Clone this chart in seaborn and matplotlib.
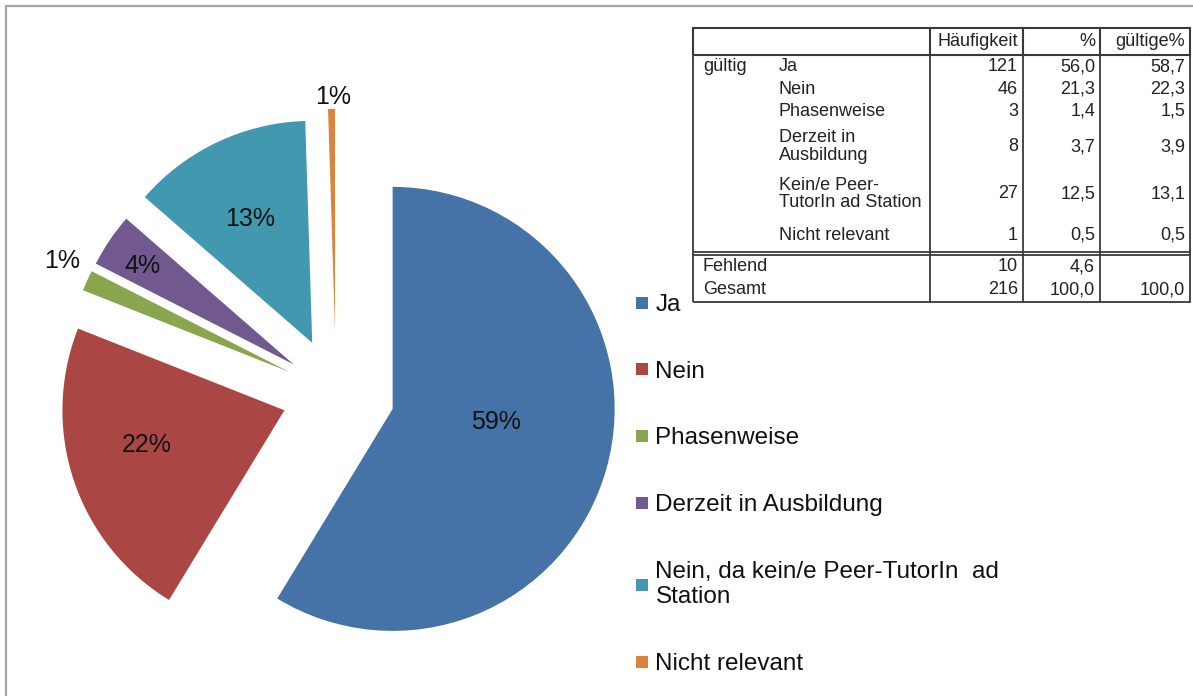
import matplotlib
matplotlib.use("Agg")
import matplotlib.pyplot as plt
from matplotlib.lines import Line2D
import numpy as np
import seaborn as sns

# answers (pie + legend)
categories = ["Ja", "Nein", "Phasenweise", "Derzeit in Ausbildung",
              "Nein, da kein/e Peer-TutorIn  ad\nStation", "Nicht relevant"]
valid_pct = [58.7, 22.3, 1.5, 3.9, 13.1, 0.5]
pie_labels = ["59%", "22%", "1%", "4%", "13%", "1%"]

# frequency table
table_labels = ["Ja", "Nein", "Phasenweise", "Derzeit in\nAusbildung",
                "Kein/e Peer-\nTutorIn ad Station", "Nicht relevant"]
counts = [121, 46, 3, 8, 27, 1]
pct = [56.0, 21.3, 1.4, 3.7, 12.5, 0.5]
missing_count, missing_pct = 10, 4.6
total_count, total_pct, total_valid = 216, 100.0, 100.0

colors = ["#4572A7", "#AA4643", "#89A54E", "#71588F", "#4198AF", "#DB843D"]
explode = [0.265, 0.245, 0.23, 0.23, 0.25, 0.28]
# label placement: distance (in radii) and angular nudge from the bisector
label_dist = [0.47, 0.64, 1.14, 0.81, 0.625, 1.055]
label_rot = [8.3, -4.6, -1.7, 1.0, 1.0, -0.4]

sns.set_theme(style="white")
plt.rcParams["font.family"] = ["Liberation Sans", "DejaVu Sans"]

W, H = 1193, 696
fig = plt.figure(figsize=(W / 100, H / 100), dpi=100)

# pie axes: centre at (336, 393) px, radius 222 px
cx, cy, r = 336, 393, 222
x0, x1, y0, y1 = 10, 660, 40, 690
ax = fig.add_axes([x0 / W, 1 - y1 / H, (x1 - x0) / W, (y1 - y0) / H])
wedges, _ = ax.pie(valid_pct, colors=colors, explode=explode, startangle=90,
                   counterclock=False, wedgeprops=dict(linewidth=0))
ax.set_xlim((x0 - cx) / r, (x1 - cx) / r)
ax.set_ylim((cy - y1) / r, (cy - y0) / r)
ax.axis("off")

for w, lab, d, rot in zip(wedges, pie_labels, label_dist, label_rot):
    ang = np.deg2rad((w.theta1 + w.theta2) / 2 + rot)
    ax.text(w.center[0] + d * np.cos(ang), w.center[1] + d * np.sin(ang), lab,
            ha="center", va="center", fontsize=18, color="#111111")

# legend
handles = [Line2D([], [], marker="s", linestyle="none", markersize=8,
                  markerfacecolor=c, markeredgewidth=0) for c in colors]
fig.legend(handles, categories, loc="upper left",
           bbox_to_anchor=(636 / W, 1 - 294 / H), frameon=False,
           fontsize=17.5, handlelength=0.5, handletextpad=0.3,
           labelspacing=1.84, borderpad=0, borderaxespad=0,
           labelcolor="#111111")

# table
tx0, tx1, ty0, ty1 = 693, 1190, 28, 302
tax = fig.add_axes([tx0 / W, 1 - ty1 / H, (tx1 - tx0) / W, (ty1 - ty0) / H])
tax.axis("off")

fmt = lambda v: f"{v:.1f}".replace(".", ",")
cells = [["", "", "Häufigkeit", "%", "gültige%"]]
for i, lab in enumerate(table_labels):
    cells.append(["gültig" if i == 0 else "", lab, str(counts[i]), fmt(pct[i]), fmt(valid_pct[i])])
cells.append(["", "", "", "", ""])  # spacer for the double rule
cells.append(["Fehlend", "", str(missing_count), fmt(missing_pct), ""])
cells.append(["Gesamt", "", str(total_count), fmt(total_pct), fmt(total_valid)])

row_h = [27, 23, 22, 23, 47, 48, 34, 3, 23, 24]
col_w = [82, 155, 93, 77, 90]
n_rows = len(cells)

edges = []
for ri in range(n_rows):
    if ri == 0:
        e = ["TLB", "TBR", "TBR", "TBR", "TBR"]
    elif ri == 6:
        e = ["LB", "RB", "RB", "RB", "RB"]
    elif ri == 8:
        e = ["LT", "TR", "TR", "TR", "TR"]
    elif ri == n_rows - 1:
        e = ["LB", "RB", "RB", "RB", "RB"]
    else:
        e = ["L", "R", "R", "R", "R"]
    edges.append(e)

tab = tax.table(cellText=cells, bbox=[0, 0, 1, 1], edges="open")
tab.auto_set_font_size(False)
tab.set_fontsize(13)
for ri in range(n_rows):
    for ci in range(5):
        cell = tab[ri, ci]
        cell.set_height(row_h[ri] / sum(row_h))
        cell.set_width(col_w[ci] / sum(col_w))
        cell.visible_edges = edges[ri][ci]
        cell.set_linewidth(1.5 if ri == 0 else 1.3)
        cell.set_edgecolor("#3a3a3a")
        cell.set_facecolor("none")
        t = cell.get_text()
        t.set_color("#222222")
        t.set_linespacing(1.05)
        if ci >= 2:
            cell._loc = "right"
            cell.PAD = 5 / col_w[ci]
        else:
            cell._loc = "left"
            cell.PAD = (10 if ci == 0 else 4) / col_w[ci]
        t.set_horizontalalignment(cell._loc)

# outer frame of the chart area
fig.add_artist(Line2D([6 / W, 6 / W], [0, 1 - 6 / H], color="#a6a6a6", lw=1.6))
fig.add_artist(Line2D([6 / W, 1], [1 - 6 / H, 1 - 6 / H], color="#a6a6a6", lw=1.6))

fig.savefig("out.png", dpi=100)
